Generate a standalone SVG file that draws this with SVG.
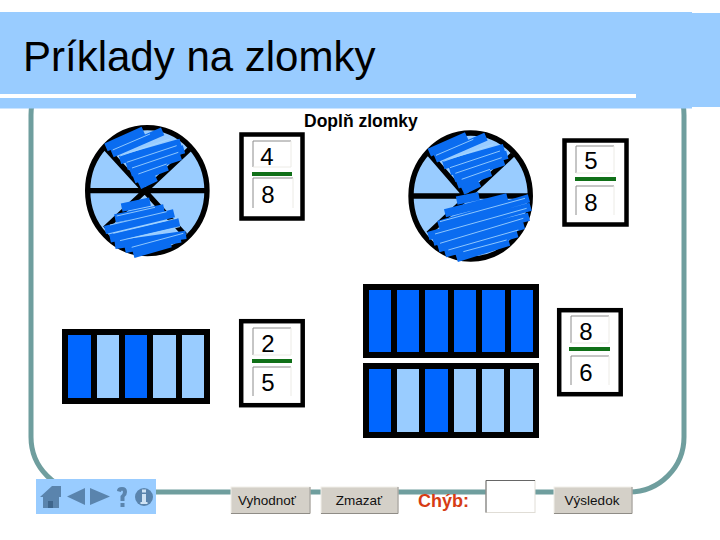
<svg xmlns="http://www.w3.org/2000/svg" width="720" height="540" viewBox="0 0 720 540">
<style>
.t{font-family:"Liberation Sans",Arial,sans-serif;fill:#000}
.num{font-size:24px;text-anchor:middle}
.btn{font-size:13.5px;text-anchor:middle;fill:#111}
.box{fill:#fff;stroke:#000;stroke-width:4.5}
.edge{fill:none;stroke:#8c8c8c;stroke-width:1}
.edge2{fill:none;stroke:#ecebe6;stroke-width:1}
.gr{fill:#107018}
.d{fill:#0066ff}
.l{fill:#99ccff}
.bt{fill:#d4d0c8;stroke:#f2f0ea;stroke-width:1}
.bs{fill:none;stroke:#8f8c86;stroke-width:1}
.ic{fill:#5a84ad}
.st{stroke:#0a6cf0;stroke-width:25;fill:none}
.hl{stroke:#a8d8ff;stroke-width:2.500;fill:none}
.disc{fill:#99ccff;stroke:#000;stroke-width:16}
.sp{stroke:#000;stroke-width:16;fill:none}
</style>
<defs>
<g id="topWedge">
<path class="st" d="M108 112L220 62M126 130L278 64M150 150L332 98M170 168L342 118M182 188L332 138M192 208L292 170M208 226L258 202"/>
<path class="hl" d="M128 120L240 72M150 138L300 87M170 157L320 107M186 174L325 127M205 192L290 162"/>
</g>
</defs>
<rect width="720" height="540" fill="#fff"/>
<g id="frame"><rect x="31" y="60" width="653" height="432" rx="55" ry="55" fill="#fff" stroke="#6f9e9e" stroke-width="5"/></g>
<g id="header">
<rect x="0" y="12" width="692" height="96.500" class="l"/>
<rect x="635" y="13" width="85" height="94" class="l"/>
<rect x="0" y="94" width="636" height="4" fill="#fff"/>
<text class="t" x="23" y="71" font-size="42">Príklady na zlomky</text>
</g>
<text id="subtitle" class="t" x="304" y="127" font-size="17.500" font-weight="bold">Doplň zlomky</text>

<g id="circle1" transform="translate(70 110) scale(.3333)">
<ellipse class="disc" cx="232" cy="242" rx="179" ry="189"/>
<path class="sp" d="M50 242H415M105 112L345 375M358 118L105 355"/>
<use href="#topWedge"/>
<path class="st" d="M155 293L240 275M135 325L282 295M105 360L312 310M120 385L328 337M135 405L348 375M165 417L332 385M190 432L302 400"/>
<path class="hl" d="M140 318L255 292M120 345L290 305M130 370L320 325M150 392L330 350M185 412L340 370"/>
</g>
<g id="circle2" transform="translate(400 110) scale(.3333)">
<ellipse class="disc" cx="212" cy="258" rx="179" ry="189"/>
<path class="sp" d="M30 258H395M85 128L190 250M338 134L85 371"/>
<use href="#topWedge" transform="translate(-20 16)"/>
<path class="st" d="M170 272L237 258M135 310L322 262M115 345L387 265M85 378L392 290M100 395L387 320M115 415L372 345M135 430L352 370M170 444L327 395"/>
<path class="hl" d="M120 335L375 265M105 372L380 295M120 400L370 325M145 420L355 360M190 425L320 390"/>
</g>

<g id="fraction1">
<rect class="box" x="241.500" y="134.500" width="61" height="84"/>
<path class="edge" d="M253 167V141H291"/><path class="edge2" d="M291 141V167H253"/>
<path class="edge" d="M253 208V178H293"/><path class="edge2" d="M293 178V208"/>
<rect class="gr" x="252" y="172" width="40" height="4"/>
<text class="t num" x="267" y="165">4</text><text class="t num" x="268" y="203">8</text>
</g>
<g id="fraction2">
<rect class="box" x="564.500" y="140.500" width="62" height="84"/>
<path class="edge" d="M576 173V146H614"/><path class="edge2" d="M614 146V173H576"/>
<path class="edge" d="M576 215V186H614"/><path class="edge2" d="M614 186V215"/>
<rect class="gr" x="575" y="177" width="41" height="4"/>
<text class="t num" x="591" y="169">5</text><text class="t num" x="591" y="211">8</text>
</g>
<g id="fraction3">
<rect class="box" x="241.200" y="321.200" width="61.500" height="84"/>
<path class="edge" d="M253 355V328H291"/><path class="edge2" d="M291 328V355H253"/>
<path class="edge" d="M253 396V367H291"/><path class="edge2" d="M291 367V396"/>
<rect class="gr" x="252" y="359" width="40" height="4"/>
<text class="t num" x="268" y="352">2</text><text class="t num" x="268" y="391">5</text>
</g>
<g id="fraction4">
<rect class="box" x="559.200" y="310.200" width="61.500" height="84"/>
<path class="edge" d="M571 343V316H609"/><path class="edge2" d="M609 316V343H571"/>
<path class="edge" d="M571 385V356H609"/><path class="edge2" d="M609 356V385"/>
<rect class="gr" x="569" y="347" width="41" height="4"/>
<text class="t num" x="586" y="340">8</text><text class="t num" x="586" y="381">6</text>
</g>

<g id="bar1">
<rect x="62" y="329" width="148" height="75"/>
<rect class="d" x="68" y="335" width="23" height="63"/>
<rect class="l" x="97" y="335" width="22" height="63"/>
<rect class="d" x="125" y="335" width="22" height="63"/>
<rect class="l" x="153" y="335" width="23" height="63"/>
<rect class="l" x="182" y="335" width="22" height="63"/>
</g>
<g id="bar2">
<rect x="363" y="284" width="176" height="74"/>
<rect class="d" x="369" y="290" width="22" height="62"/>
<rect class="d" x="397" y="290" width="22" height="62"/>
<rect class="d" x="425" y="290" width="23" height="62"/>
<rect class="d" x="454" y="290" width="22" height="62"/>
<rect class="d" x="482" y="290" width="23" height="62"/>
<rect class="d" x="511" y="290" width="22" height="62"/>
</g>
<g id="bar3">
<rect x="363" y="363" width="176" height="75"/>
<rect class="d" x="369" y="369" width="22" height="63"/>
<rect class="l" x="397" y="369" width="22" height="63"/>
<rect class="d" x="425" y="369" width="23" height="63"/>
<rect class="l" x="454" y="369" width="22" height="63"/>
<rect class="l" x="482" y="369" width="22" height="63"/>
<rect class="l" x="510" y="369" width="23" height="63"/>
</g>

<g id="toolbar">
<rect class="l" x="36" y="479" width="120" height="35"/>
<path class="ic" d="M40 497L52 486L61 486V497L62 497ZM43 497H59V508H43Z"/>
<rect x="48" y="501" width="5" height="7" fill="#3f668c"/>
<path class="ic" d="M67 496.500L85 488V505ZM110 496.500L90 488V505Z"/>
<path class="ic" d="M117 491Q117 487 122 487Q127 487 127 492Q127 495 124.500 497V501H120.500V496Q123 494 123 492Q123 490.500 122 490.500Q121 490.500 121 492ZM120.500 503H124.500V507H120.500Z"/>
<circle class="ic" cx="144" cy="497" r="9"/>
<path d="M142 489.500H146V492.500H142ZM142 494H146V502H147.500V504H140.500V502H142Z" fill="#cfe3f5"/>
</g>

<g id="btnVyhodnot"><rect class="bt" x="231" y="487" width="79" height="26.500"/><path class="bs" d="M231 513.500H310V487"/><text class="t btn" x="267" y="505">Vyhodnoť</text></g>
<g id="btnZmazat"><rect class="bt" x="321" y="487" width="77" height="26.500"/><path class="bs" d="M321 513.500H398V487"/><text class="t btn" x="359" y="505">Zmazať</text></g>
<g id="chyb"><text class="t" x="418" y="507" font-size="18" font-weight="bold" style="fill:#d63c14">Chýb:</text></g>
<g id="inputChyb"><rect x="486" y="480.500" width="49" height="32" fill="#fff" stroke="#e0ddd6"/><path class="edge" d="M486 512.500V480.500H535" style="stroke:#666"/></g>
<g id="btnVysledok"><rect class="bt" x="554" y="487" width="78" height="26.500"/><path class="bs" d="M554 513.500H632V487"/><text class="t btn" x="592" y="505">Výsledok</text></g>
</svg>
